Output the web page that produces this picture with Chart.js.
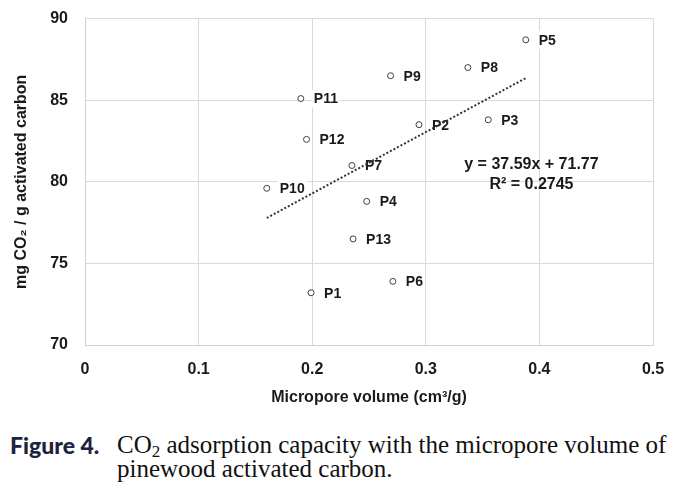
<!DOCTYPE html>
<html>
<head>
<meta charset="utf-8">
<script src="https://cdn.jsdelivr.net/npm/chart.js@4/dist/chart.umd.min.js"></script>
<style>
  html, body { margin: 0; padding: 0; background: #fff; overflow: hidden; }
  #wrap { position: relative; width: 687px; height: 493px; overflow: hidden; }
  #chart { position: absolute; left: 0; top: -8px; }
  .cap { position: absolute; font-family: "Liberation Serif", serif; font-size: 25px; line-height: 24px; color: #111; white-space: nowrap; }
  .fig { font-family: Lato, "DejaVu Sans", sans-serif; font-weight: 900; font-size: 23px; color: #1c2340; }
</style>
</head>
<body>
<div id="wrap">
  <canvas id="chart" width="687" height="420"></canvas>
  <div class="cap fig" style="top:433px; left:10px;">Figure 4.</div>
  <div class="cap" style="top:433px; left:117px;">CO<sub style="font-size:17px; vertical-align:-4px; line-height:0;">2</sub> adsorption capacity with the micropore volume of</div>
  <div class="cap" style="top:457px; left:117px;">pinewood activated carbon.</div>
</div>
<script>
// sample names and values
const sampleNames = ['P1', 'P2', 'P3', 'P4', 'P5', 'P6', 'P7', 'P8', 'P9', 'P10', 'P11', 'P12', 'P13'];
const microporeVolume = [0.199, 0.294, 0.355, 0.248, 0.388, 0.271, 0.235, 0.337, 0.269, 0.160, 0.190, 0.195, 0.236];
const co2Uptake = [73.2, 83.5, 83.8, 78.8, 88.7, 73.9, 81.0, 87.0, 86.5, 79.6, 85.1, 82.6, 76.5];

// linear trendline as printed on the chart
const trendSlope = 37.59;
const trendIntercept = 71.77;
const trendX = [0.160, 0.388];

const xTicks = [0, 0.1, 0.2, 0.3, 0.4, 0.5];
const yTicks = [70, 75, 80, 85, 90];

const FONT = '"Liberation Sans", Arial, sans-serif';

const scatterData = microporeVolume.map((x, i) => ({ x: x, y: co2Uptake[i] }));
const trendData = trendX.map(x => ({ x: x, y: trendSlope * x + trendIntercept }));

// data labels with white background, drawn under the points and trendline
const pointLabels = {
    id: 'pointLabels',
    beforeDatasetsDraw(chart) {
        const ctx = chart.ctx;
        const meta = chart.getDatasetMeta(0);
        ctx.save();
        ctx.font = 'bold 14px ' + FONT;
        ctx.textBaseline = 'middle';
        meta.data.forEach((pt, i) => {
            const text = sampleNames[i];
            const w = ctx.measureText(text).width;
            const x = pt.x + 13;
            ctx.fillStyle = '#fff';
            ctx.fillRect(x - 2, pt.y - 9, w + 4, 18);
            ctx.fillStyle = '#1a1a1a';
            ctx.fillText(text, x, pt.y + 1);
        });
        ctx.restore();
    }
};

const equationLabel = {
    id: 'equationLabel',
    afterDatasetsDraw(chart) {
        const ctx = chart.ctx;
        const xs = chart.scales.x, ys = chart.scales.y;
        const cx = xs.getPixelForValue(0.393);
        const cy = ys.getPixelForValue(81.05);
        ctx.save();
        ctx.font = 'bold 16px ' + FONT;
        ctx.fillStyle = '#1a1a1a';
        ctx.textAlign = 'center';
        ctx.textBaseline = 'middle';
        ctx.fillText('y = ' + trendSlope + 'x + ' + trendIntercept, cx, cy);
        ctx.fillText('R² = 0.2745', cx, cy + 20);
        ctx.restore();
    }
};

new Chart(document.getElementById('chart'), {
    type: 'scatter',
    data: {
        datasets: [
            {
                label: 'samples',
                data: scatterData,
                pointRadius: 3,
                pointBorderWidth: 1,
                pointBorderColor: '#404040',
                pointBackgroundColor: '#fff'
            },
            {
                type: 'line',
                label: 'trend',
                data: trendData,
                borderColor: '#333',
                borderWidth: 2,
                borderDash: [2, 2],
                pointRadius: 0,
                fill: false
            }
        ]
    },
    options: {
        responsive: false,
        animation: false,
        layout: { padding: { top: 10, right: 34, bottom: 0, left: 0 } },
        plugins: {
            legend: { display: false },
            tooltip: { enabled: false }
        },
        scales: {
            x: {
                type: 'linear',
                min: 0,
                max: 0.5,
                afterBuildTicks: scale => { scale.ticks = xTicks.map(v => ({ value: v })); },
                afterFit: scale => { scale.height = 67; },
                grid: { color: '#d9d9d9', drawTicks: false },
                border: { color: '#d0d0d0' },
                ticks: {
                    padding: 15,
                    color: '#1a1a1a',
                    font: { family: FONT, size: 16, weight: 'bold' },
                    callback: v => String(v)
                },
                title: {
                    display: true,
                    text: 'Micropore volume (cm³/g)',
                    color: '#1a1a1a',
                    font: { family: FONT, size: 16, weight: 'bold' },
                    padding: { top: 0, bottom: 5 }
                }
            },
            y: {
                min: 70,
                max: 90,
                afterBuildTicks: scale => { scale.ticks = yTicks.map(v => ({ value: v })); },
                afterFit: scale => { scale.width = 85; },
                grid: { color: '#d9d9d9', drawTicks: false },
                border: { color: '#d0d0d0' },
                ticks: {
                    padding: 17,
                    color: '#1a1a1a',
                    font: { family: FONT, size: 16, weight: 'bold' }
                },
                title: {
                    display: true,
                    text: 'mg CO₂ / g activated carbon',
                    color: '#1a1a1a',
                    font: { family: FONT, size: 16, weight: 'bold' },
                    padding: { top: 12, bottom: 0 }
                }
            }
        }
    },
    plugins: [pointLabels, equationLabel]
});
</script>
</body>
</html>
